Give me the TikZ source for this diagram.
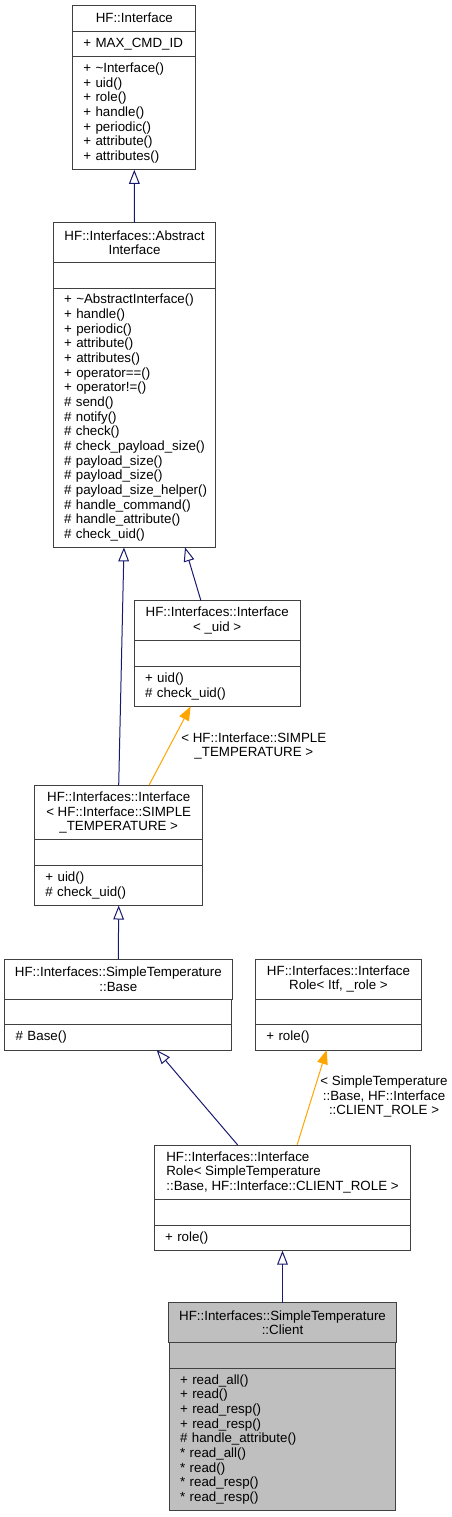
\documentclass[tikz,border=0pt]{standalone}
\usepackage{fontspec}
\setmainfont{Liberation Sans}
\usetikzlibrary{arrows.meta, positioning}

\definecolor{inhblue}{RGB}{25,25,112}
\definecolor{tplorange}{RGB}{255,165,0}
\definecolor{boxline}{RGB}{64,64,64}
\definecolor{focusgray}{RGB}{191,191,191}
\hyphenpenalty=10000

\begin{document}
\begin{tikzpicture}[
    x=0.75pt, y=-0.75pt,
    every node/.style={font=\fontsize{10}{11}\selectfont},
    cls/.style={draw=boxline, line width=0.75pt, outer sep=0pt, inner xsep=8pt, inner ysep=2pt, fill=white},
    ttl/.style={cls, minimum width=#1, align=center},
    att/.style={cls, minimum width=#1, minimum height=19.1pt},
    ops/.style={cls, text width=#1, align=left},
    inh/.style={draw=inhblue, line width=0.75pt, -{Triangle[open, length=10.5pt, width=8pt]}},
    tpl/.style={draw=tplorange, line width=0.75pt, -{Triangle[length=10.5pt, width=8pt]}},
    lbl/.style={inner sep=0pt, align=center},
]
    \useasboundingbox (0,0) rectangle (451,1517);

    % Top: HF::Interface
    \node[ttl=92.5pt, minimum height=19.5pt, anchor=north] (iface) at (134.3,5) {HF::Interface};
    \node[ops=76.5pt, minimum height=19.2pt, below=0pt of iface] (ifaceattr) {+ MAX\_CMD\_ID};
    \node[ops=76.5pt, minimum height=84.9pt, below=0pt of ifaceattr] (ifaceops) {+ \textasciitilde Interface()\\+ uid()\\+ role()\\+ handle()\\+ periodic()\\+ attribute()\\+ attributes()};

    % Abstract interface
    \node[ttl=121.7pt, minimum height=30pt, anchor=north] (abstract) at (134.5,222.7) {HF::Interfaces::Abstract\\Interface};
    \node[att=121.7pt, below=0pt of abstract] (abstractattr) {};
    \node[ops=105.7pt, minimum height=194.4pt, below=0pt of abstractattr] (abstractops) {+ \textasciitilde AbstractInterface()\\+ handle()\\+ periodic()\\+ attribute()\\+ attributes()\\+ operator==()\\+ operator!=()\\\#~send()\\\#~notify()\\\#~check()\\\#~check\_payload\_size()\\\#~payload\_size()\\\#~payload\_size()\\\#~payload\_size\_helper()\\\#~handle\_command()\\\#~handle\_attribute()\\\#~check\_uid()};

    % Interface templates
    \node[ttl=124.3pt, minimum height=30pt, anchor=north] (ifuid) at (217.2,600.7) {HF::Interfaces::Interface\\< \_uid >};
    \node[att=124.3pt, below=0pt of ifuid] (ifuidattr) {};
    \node[ops=108.3pt, minimum height=30.15pt, below=0pt of ifuidattr] (ifuidops) {+ uid()\\\#~check\_uid()};

    \node[ttl=126pt, minimum height=40.9pt, anchor=north] (ifsimple) at (118.7,785.3) {HF::Interfaces::Interface\\< HF::Interface::SIMPLE\\\_TEMPERATURE >};
    \node[att=126pt, below=0pt of ifsimple] (ifsimpleattr) {};
    \node[ops=110pt, minimum height=30.15pt, below=0pt of ifsimpleattr] (ifsimpleops) {+ uid()\\\#~check\_uid()};

    % Base and role template
    \node[ttl=170pt, minimum height=30pt, anchor=north] (stbase) at (118.3,959) {HF::Interfaces::SimpleTemperature\\::Base};
    \node[att=170pt, below=0pt of stbase] (stbaseattr) {};
    \node[ops=154pt, minimum height=19.2pt, below=0pt of stbaseattr] (stbaseops) {\#~Base()};

    \node[ttl=124.3pt, minimum height=30pt, anchor=north] (itfrole) at (338.5,959) {HF::Interfaces::Interface\\Role< Itf, \_role >};
    \node[att=124.3pt, below=0pt of itfrole] (itfroleattr) {};
    \node[ops=108.3pt, minimum height=19.2pt, below=0pt of itfroleattr] (itfroleops) {+ role()};

    % Client role
    \node[ttl=192.2pt, align=left, minimum height=40.9pt, anchor=north] (clientrole) at (282.5,1145) {HF::Interfaces::Interface\\Role< SimpleTemperature\\::Base, HF::Interface::CLIENT\_ROLE >};
    \node[att=192.2pt, below=0pt of clientrole] (clientroleattr) {};
    \node[ops=176.2pt, minimum height=19.2pt, below=0pt of clientroleattr] (clientroleops) {+ role()};

    % Bottom: the client itself
    \node[ttl=169.7pt, fill=focusgray, minimum height=30pt, anchor=north] (client) at (282.5,1302.7) {HF::Interfaces::SimpleTemperature\\::Client};
    \node[att=169.7pt, fill=focusgray, below=0pt of client] (clientattr) {};
    \node[ops=153.7pt, fill=focusgray, minimum height=106.8pt, below=0pt of clientattr] (clientops) {+ read\_all()\\+ read()\\+ read\_resp()\\+ read\_resp()\\\#~handle\_attribute()\\{}* read\_all()\\{}* read()\\{}* read\_resp()\\{}* read\_resp()};

    % Inheritance
    \draw[inh] (abstract.north) -- (ifaceops.south);
    \draw[inh] (ifsimple.north) -- ([xshift=-7.9pt]abstractops.south);
    \draw[inh] ([xshift=-12.2pt]ifuid.north) -- ([xshift=37.9pt]abstractops.south);
    \draw[inh] (stbase.north) -- (ifsimpleops.south);
    \draw[inh] ([xshift=-33.6pt]clientrole.north) -- ([xshift=28.8pt]stbaseops.south);
    \draw[inh] (client.north) -- (clientroleops.south);

    % Template instances
    \draw[tpl] ([xshift=22.7pt]ifsimple.north) -- node[lbl, pos=0.5, anchor=west, xshift=8.3pt] {< HF::Interface::SIMPLE\\\_TEMPERATURE >} ([xshift=-19.9pt]ifuidops.south);
    \draw[tpl] ([xshift=10.9pt]clientrole.north) -- node[lbl, pos=0.51, anchor=west, xshift=5.9pt] {< SimpleTemperature\\::Base, HF::Interface\\::CLIENT\_ROLE >} ([xshift=-8.9pt]itfroleops.south);
\end{tikzpicture}
\end{document}
